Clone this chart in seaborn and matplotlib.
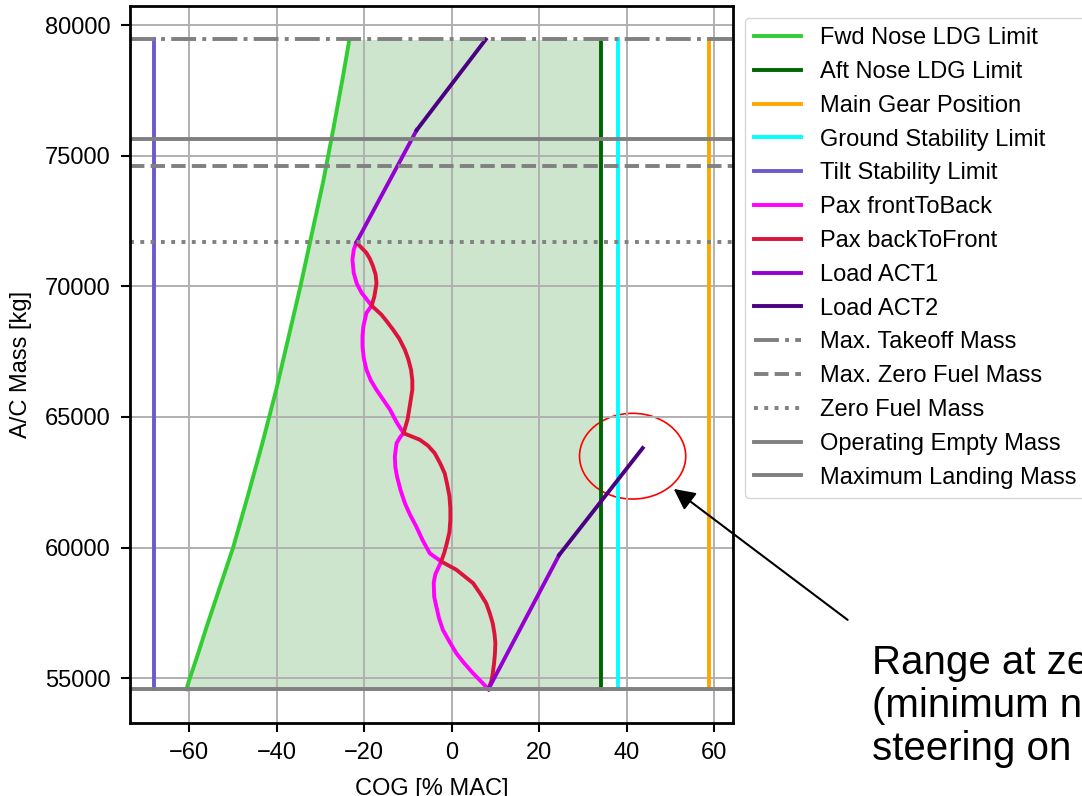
import matplotlib
matplotlib.use("Agg")
import matplotlib.pyplot as plt
from matplotlib.patches import Ellipse
import seaborn as sns

# masse de referinta [kg]
mtom = 79450
mlm = 75630
mzfm = 74590
zfm = 71680
oem = 54580

# limite verticale [% MAC]
aft_nose = 34.2
main_gear = 58.8
ground_stab = 38.1
tilt_stab = -68.2

# limita fata tren bot
fwd_mass = [54580, 55000, 56000, 57000, 58000, 59000, 60000, 62000, 64000,
            66000, 68000, 70000, 72000, 74000, 76000, 78000, 79450]
fwd_cog = [-60.7, -59.9, -57.9, -56.0, -54.0, -52.0, -50.0, -46.6, -43.3,
           -40.2, -37.4, -34.6, -32.0, -29.4, -27.1, -24.9, -23.4]

# pasageri front to back
ftb_mass = [54580, 54900, 55190, 55570, 55950, 56400, 56850, 57300, 57740, 58120, 58640,
            58760, 59000, 59210, 59470,
            59780, 60300, 60810, 61250, 61700, 62200, 62720, 63100, 63490, 64000, 64250, 64380,
            64800, 65280, 66040, 66400, 66810, 67250, 67700, 68100, 68470, 68980, 69260,
            69750, 70100, 70510, 71020, 71400, 71680]
ftb_cog = [8.4, 6.6, 4.9, 2.9, 1.1, -0.5, -2.0, -2.9, -3.5, -4.0, -4.1,
           -4.0, -3.7, -3.1, -2.4,
           -5.0, -6.7, -8.1, -9.5, -10.7, -11.7, -12.5, -12.9, -13.0, -12.6, -11.7, -11.0,
           -12.6, -14.1, -17.2, -18.5, -19.5, -20.1, -20.4, -20.4, -20.2, -19.5, -18.3,
           -20.6, -21.7, -22.4, -22.7, -22.4, -21.8]

# pasageri back to front
btf_mass = [54580, 54900, 55190, 55570, 55950, 56340, 56700, 57100, 57500, 57870, 58250, 58640, 59150, 59470,
            59800, 60170, 60600, 61060, 61500, 61960, 62400, 62850, 63250, 63620, 63900, 64130, 64380,
            64900, 65400, 66040, 66400, 66810, 67200, 67570, 68000, 68340, 68650, 68920, 69260,
            69600, 70000, 70130, 70450, 70770, 71050, 71280, 71680]
btf_cog = [8.4, 9.1, 9.4, 9.7, 9.9, 10.0, 9.8, 9.4, 8.7, 7.9, 6.5, 4.9, 1.1, -2.4,
           -1.7, -1.1, -0.5, -0.3, -0.3, -0.5, -1.0, -1.6, -2.7, -3.9, -5.4, -7.3, -11.0,
           -10.1, -9.6, -9.0, -9.0, -9.3, -9.9, -10.7, -12.0, -13.4, -14.8, -16.1, -18.3,
           -17.7, -17.3, -17.2, -17.4, -18.0, -18.7, -19.5, -21.8]

# tancuri aditionale (doua segmente fiecare)
act1_low_mass = [54580, 59720]
act1_low_cog = [8.4, 24.6]
act2_low_mass = [59720, 63810]
act2_low_cog = [24.6, 43.7]
act1_up_mass = [71680, 75980]
act1_up_cog = [-21.8, -8.0]
act2_up_mass = [75980, 79450]
act2_up_cog = [-8.0, 7.8]

plt.rcParams["font.family"] = ["Liberation Sans", "DejaVu Sans"]
plt.rcParams["font.size"] = 17

fig = plt.figure(figsize=(10.82, 7.96), dpi=100)
ax = fig.add_axes([0.1201, 0.0921, 0.5571, 0.9004])

lw = 2.8
kw = dict(sort=False, estimator=None, linewidth=lw, legend=False)

ax.fill_betweenx(fwd_mass, fwd_cog, aft_nose, color="green", alpha=0.2, linewidth=0)

sns.lineplot(x=fwd_cog, y=fwd_mass, color="limegreen", label="Fwd Nose LDG Limit", ax=ax, **kw)
sns.lineplot(x=[aft_nose, aft_nose], y=[oem, mtom], color="darkgreen", label="Aft Nose LDG Limit", ax=ax, **kw)
sns.lineplot(x=[main_gear, main_gear], y=[oem, mtom], color="orange", label="Main Gear Position", ax=ax, **kw)
sns.lineplot(x=[ground_stab, ground_stab], y=[oem, mtom], color="cyan", label="Ground Stability Limit", ax=ax, **kw)
sns.lineplot(x=[tilt_stab, tilt_stab], y=[oem, mtom], color="slateblue", label="Tilt Stability Limit", ax=ax, **kw)
sns.lineplot(x=ftb_cog, y=ftb_mass, color="magenta", label="Pax frontToBack", ax=ax, **kw)
sns.lineplot(x=btf_cog, y=btf_mass, color="crimson", label="Pax backToFront", ax=ax, **kw)
sns.lineplot(x=act1_low_cog, y=act1_low_mass, color="darkviolet", label="Load ACT1", ax=ax, **kw)
sns.lineplot(x=act2_low_cog, y=act2_low_mass, color="indigo", label="Load ACT2", ax=ax, **kw)
sns.lineplot(x=act1_up_cog, y=act1_up_mass, color="darkviolet", ax=ax, **kw)
sns.lineplot(x=act2_up_cog, y=act2_up_mass, color="indigo", ax=ax, **kw)

ax.axhline(mtom, color="gray", ls="-.", lw=lw, label="Max. Takeoff Mass")
ax.axhline(mzfm, color="gray", ls="--", lw=lw, label="Max. Zero Fuel Mass")
ax.axhline(zfm, color="gray", ls=":", lw=lw, label="Zero Fuel Mass")
ax.axhline(oem, color="gray", ls="-", lw=lw, label="Operating Empty Mass")
ax.axhline(mlm, color="gray", ls="-", lw=lw, label="Maximum Landing Mass")

ax.set_xlim(-73.6, 64.3)
ax.set_ylim(53300, 80730)
ax.set_xticks([-60, -40, -20, 0, 20, 40, 60])
ax.set_yticks([55000, 60000, 65000, 70000, 75000, 80000])
ax.grid(True, color="#b0b0b0", linewidth=1.4)
ax.tick_params(length=6.5, width=1.5, pad=7.5, labelsize=17)
for s in ax.spines.values():
    s.set_linewidth(2)
    s.set_color("black")
ax.set_xlabel("COG [% MAC]", fontsize=17, labelpad=10)
ax.set_ylabel("A/C Mass [kg]", fontsize=17, labelpad=9)

ax.legend(loc="upper left", bbox_to_anchor=(1.0, 1.0), fontsize=17)

# zona marcata + sageata + text
ax.add_patch(Ellipse((41.4, 63500), 24.3, 3280, fill=False, edgecolor="red", lw=1.2))
ax.annotate("", xy=(50.3, 62310), xytext=(91.1, 57170),
            arrowprops=dict(arrowstyle="-|>", color="black", lw=1.5, mutation_scale=32),
            annotation_clip=False)
fig.text(0.8056, 0.0452, "Range at zero fuel\n(minimum nose wheel\nsteering on ground)",
         fontsize=29, va="baseline", ha="left", linespacing=1.17)

fig.savefig("out.png", dpi=100)
